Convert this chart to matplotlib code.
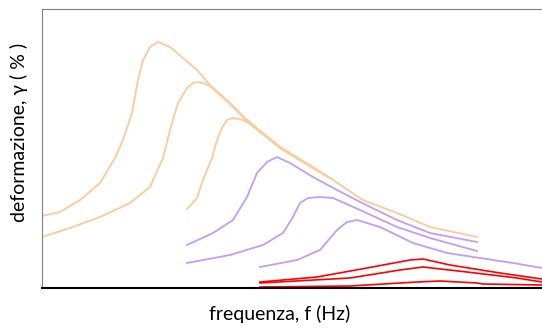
import matplotlib
matplotlib.use("Agg")
import matplotlib.pyplot as plt

# curves (arbitrary units)
o1_f = [0, 18, 38, 58, 73, 81, 90, 96, 101, 108, 116, 128, 141, 155, 168, 188, 205, 238, 271, 288, 321, 355, 388, 435]
o1_g = [72, 76, 88, 105, 130, 148, 175, 208, 228, 241, 246, 241, 230, 218, 203, 185, 168, 141, 121, 110, 88, 75, 61, 51]
o2_f = [0, 28, 58, 88, 108, 121, 128, 136, 145, 151, 156, 161, 168, 188, 205, 238, 271, 288]
o2_g = [51, 60, 71, 85, 101, 130, 158, 185, 200, 205, 206, 205, 202, 184, 167, 140, 120, 110]
o3_f = [145, 155, 161, 170, 175, 180, 185, 191, 201, 208, 238, 271, 288]
o3_g = [79, 90, 108, 130, 148, 160, 168, 170, 168, 164, 140, 120, 110]

p1_f = [145, 171, 191, 205, 215, 225, 235, 248, 271, 295, 318, 355, 388, 435]
p1_g = [43, 55, 68, 91, 115, 126, 131, 125, 111, 98, 86, 68, 55, 46]
p2_f = [145, 188, 221, 241, 251, 258, 266, 278, 291, 318, 355, 388, 435]
p2_g = [25, 33, 43, 55, 71, 85, 90, 91, 90, 78, 61, 50, 37]
p3_f = [218, 255, 278, 295, 305, 315, 338, 371, 405, 438, 471, 500]
p3_g = [21, 28, 38, 58, 66, 68, 61, 45, 35, 30, 25, 20]

r1_f = [218, 275, 325, 368, 381, 408, 458, 500]
r1_g = [6, 11, 20, 28, 29, 23, 15, 9]
r2_f = [218, 308, 358, 381, 425, 475, 500]
r2_g = [5, 10, 18, 21, 16, 10, 6]
r3_f = [218, 308, 375, 398, 435, 441, 500]
r3_g = [1, 2, 6, 7, 5, 4, 3]

orange = "#FFC998"
purple = "#C39BFF"
red = "#FF0000"

fig = plt.figure(figsize=(5.42, 3.29), dpi=100)
ax = fig.add_axes([42 / 542, 41 / 329, 500 / 542, 279 / 329])

for f, g in [(o1_f, o1_g), (o2_f, o2_g), (o3_f, o3_g)]:
    ax.plot(f, g, color=orange, lw=1.3)
for f, g in [(p1_f, p1_g), (p2_f, p2_g), (p3_f, p3_g)]:
    ax.plot(f, g, color=purple, lw=1.3)
for f, g in [(r1_f, r1_g), (r2_f, r2_g), (r3_f, r3_g)]:
    ax.plot(f, g, color=red, lw=1.2)

ax.set_xlim(0, 500)
ax.set_ylim(0, 279)
ax.set_xticks([])
ax.set_yticks([])
ax.spines["right"].set_visible(False)
ax.spines["left"].set_color("#808080")
ax.spines["top"].set_color("#808080")
ax.spines["bottom"].set_color("black")
ax.spines["bottom"].set_linewidth(1.5)

ax.set_xlabel("frequenza, f (Hz)", fontsize=14, family="Lato")
ax.set_ylabel("deformazione, γ ( % )", fontsize=14, family="Lato")
ax.xaxis.set_label_coords(0.476, -0.062)
ax.yaxis.set_label_coords(-0.028, 0.556)

fig.savefig("out.png", dpi=100)
